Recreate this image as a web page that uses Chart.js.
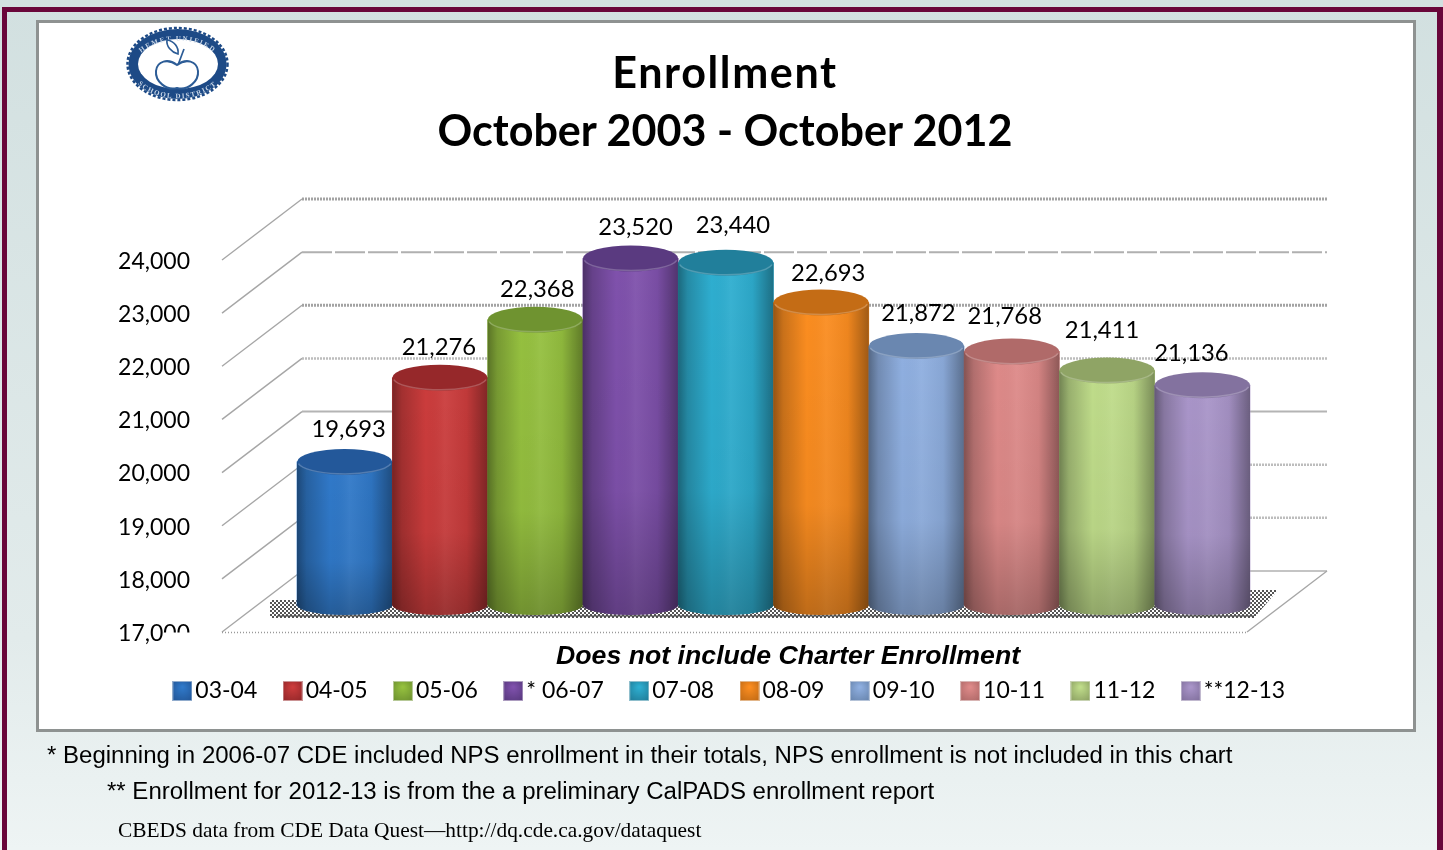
<!DOCTYPE html>
<html lang="en">
<head>
    <meta charset="utf-8">
    <title>Enrollment</title>
    <script src="https://cdn.jsdelivr.net/npm/chart.js"></script>
    <style>
        html, body { margin: 0; padding: 0; }
        body {
            width: 1443px; height: 850px; position: relative; overflow: hidden;
            background: linear-gradient(180deg, #d2e0e0 0%, #e2ebeb 75%, #eef4f4 100%);
        }
        #frame {
            position: absolute; left: 2px; top: 7px; width: 1441px; height: 860px;
            box-sizing: border-box; border: 5px solid #69063a; border-right-width: 6px;
        }
        #panel {
            position: absolute; left: 36px; top: 20px; width: 1380px; height: 712px;
            box-sizing: border-box; background: #fff; border: 3.5px solid #8e9291;
        }
        canvas { position: absolute; left: 0; top: 0; }
        #logo { position: absolute; left: 124px; top: 25px; filter: blur(0.6px); }
        .title {
            position: absolute; left: 35px; width: 1380px; text-align: center;
            font: bold 43.1px Lato, sans-serif; color: #000; line-height: 58px; top: 42px;
        }
        .title span { letter-spacing: 1.6px; }
        .caption {
            position: absolute; left: 556px; top: 640px; white-space: nowrap;
            font: italic bold 26.7px "Liberation Sans", Arial, sans-serif; color: #000;
        }
        .note { position: absolute; white-space: nowrap; color: #000; }
        .sans { font: 24.03px "Liberation Sans", Arial, sans-serif; }
        .serif { font: 21.4px "Liberation Serif", "Times New Roman", serif; }
    </style>
</head>
<body>
    <div id="frame"></div>
    <div id="panel"></div>
    <canvas id="enrollChart" width="1443" height="850"></canvas>

    <svg id="logo" width="108" height="78" viewBox="0 0 108 78">
        <defs>
            <path id="arcTop" d="M9 41 A45 30 0 0 1 98 41"/>
            <path id="arcBottom" d="M6 45 A48 33 0 0 0 101 45"/>
        </defs>
        <ellipse cx="53.5" cy="39" rx="49" ry="35" fill="#1d4a86"/>
        <ellipse cx="53.5" cy="39" rx="50" ry="36" fill="none" stroke="#1d4a86" stroke-width="2.5" stroke-dasharray="3 2"/>
        <ellipse cx="54" cy="39" rx="40" ry="25" fill="#fff"/>
        <text font-family="Liberation Serif" font-size="7" font-weight="bold" fill="#c9d7e8" letter-spacing="1.6">
            <textPath href="#arcTop" startOffset="50%" text-anchor="middle">HEMET UNIFIED</textPath>
        </text>
        <text font-family="Liberation Serif" font-size="7" font-weight="bold" fill="#c9d7e8" letter-spacing="1.4">
            <textPath href="#arcBottom" startOffset="50%" text-anchor="middle">SCHOOL DISTRICT</textPath>
        </text>
        <path d="M53 40 C44 33 33 36 32 46 C31 56 42 66 53 63 C64 66 75 56 74 46 C73 36 62 33 53 40 Z" fill="none" stroke="#2c5c96" stroke-width="2"/>
        <path d="M54 40 L60 24 M54 29 C47 27 42 21 43 15 C50 16 55 22 54 29 Z" fill="none" stroke="#2c5c96" stroke-width="1.7"/>
    </svg>

    <div class="title"><span>Enrollment</span><br>October 2003 - October 2012</div>
    <div class="caption">Does not include Charter Enrollment</div>
    <div class="note sans" style="left:47px; top:741px">* Beginning in 2006-07 CDE included NPS enrollment in their totals, NPS enrollment is not included in this chart</div>
    <div class="note sans" style="left:107px; top:777px">** Enrollment for 2012-13 is from the a preliminary CalPADS enrollment report</div>
    <div class="note serif" style="left:118px; top:818px">CBEDS data from CDE Data Quest—http://dq.cde.ca.gov/dataquest</div>

<script>
    const seasons = ['03-04', '04-05', '05-06', '* 06-07', '07-08', '08-09', '09-10', '10-11', '11-12', '**12-13'];
    const enrollment = [19693, 21276, 22368, 23520, 23440, 22693, 21872, 21768, 21411, 21136];
    const yMin = 17000;
    const yMax = 24000;
    const yStep = 1000;

    const bodyColors = ['#3079c9', '#cb3c3c', '#95c03f', '#7f51ac', '#2eaed0', '#fb8d20', '#8fafe0', '#de8a89', '#bfdc8a', '#a995c9'];
    const capColors = ['#23589a', '#96282a', '#6f9330', '#5a3a80', '#217f9b', '#c46c15', '#6a87b0', '#b06a69', '#8fa465', '#83729f'];

    // the value labels do not sit evenly above the bars
    const labelNudgeX = [4, -1, 2, 5, 7, 7, 2, -7, -5, -11];
    const labelNudgeY = [-33, -30, -30, -31, -37, -29, -33, -35, -40, -32];

    // back wall sits this far up and right of the front edge
    const wallDx = 80;
    const wallDy = -61;
    // the floor sticks out past the first and last bar
    const floorInset = 36;
    // bars stand part way into the floor
    const barDx = 39;
    const barDy = -27;
    const capRy = 13;
    const footRy = 10;

    // 24000 down to 17000
    const gridStyles = [
        { color: '#a3a3a3', width: 3, dash: [2, 1] },
        { color: '#b0b0b0', width: 2, dash: [30, 3] },
        { color: '#a3a3a3', width: 3, dash: [2, 1] },
        { color: '#bdbdbd', width: 2.5, dash: [2, 1] },
        { color: '#b4b4b4', width: 2, dash: [] },
        { color: '#bdbdbd', width: 2.5, dash: [2, 1] },
        { color: '#bdbdbd', width: 2.5, dash: [2, 1] },
        { color: '#b0b0b0', width: 1.5, dash: [] }
    ];

    function makeSwatch(body, cap) {
        const c = document.createElement('canvas');
        c.width = 20;
        c.height = 20;
        const g = c.getContext('2d');
        const grad = g.createRadialGradient(10, 6, 1, 10, 9, 13);
        grad.addColorStop(0, body);
        grad.addColorStop(1, cap);
        g.fillStyle = grad;
        g.fillRect(1, 1, 18, 18);
        // dotted rim
        g.strokeStyle = cap;
        g.setLineDash([1, 1]);
        g.strokeRect(0.5, 0.5, 19, 19);
        return c;
    }
    const swatches = bodyColors.map((col, i) => makeSwatch(col, capColors[i]));

    const floorPattern = (() => {
        const c = document.createElement('canvas');
        c.width = 4;
        c.height = 4;
        const g = c.getContext('2d');
        g.fillStyle = '#555';
        g.fillRect(0, 0, 2, 2);
        g.fillRect(2, 2, 2, 2);
        return document.createElement('canvas').getContext('2d').createPattern(c, 'repeat');
    })();

    const wallPlugin = {
        id: 'wall',
        beforeDatasetsDraw(chart) {
            const ctx = chart.ctx;
            const area = chart.chartArea;
            const y = chart.scales.y;
            const left = area.left - floorInset;
            const right = area.right + floorInset;
            ctx.save();
            y.ticks.forEach((tick, i) => {
                const st = gridStyles[y.ticks.length - 1 - i];
                const py = y.getPixelForValue(tick.value);
                ctx.strokeStyle = '#a6a6a6';
                ctx.lineWidth = 1.4;
                ctx.setLineDash([]);
                ctx.beginPath();
                ctx.moveTo(left, py);
                ctx.lineTo(left + wallDx, py + wallDy);
                ctx.stroke();
                ctx.strokeStyle = st.color;
                ctx.lineWidth = st.width;
                ctx.setLineDash(st.dash);
                ctx.beginPath();
                ctx.moveTo(left + wallDx, py + wallDy);
                ctx.lineTo(right + wallDx, py + wallDy);
                ctx.stroke();
            });
            // floor edges
            ctx.setLineDash([]);
            ctx.strokeStyle = '#a6a6a6';
            ctx.lineWidth = 1.4;
            ctx.beginPath();
            ctx.moveTo(right, area.bottom);
            ctx.lineTo(right + wallDx, area.bottom + wallDy);
            ctx.stroke();
            ctx.setLineDash([1, 2]);
            ctx.strokeStyle = '#999';
            ctx.beginPath();
            ctx.moveTo(left, area.bottom + 0.5);
            ctx.lineTo(right, area.bottom + 0.5);
            ctx.stroke();

            // dithered shadow along the foot of the bars
            const bars = chart.getDatasetMeta(0).data;
            const first = bars[0];
            const last = bars[bars.length - 1];
            const baseY = first.base + barDy;
            const x0 = first.x - first.width / 2 + barDx;
            const x1 = last.x + last.width / 2 + barDx;
            ctx.fillStyle = floorPattern;
            ctx.beginPath();
            ctx.moveTo(x0 - 27, baseY + capRy);
            ctx.lineTo(x1 + 4, baseY + capRy);
            ctx.lineTo(x1 + 28, baseY - 15);
            ctx.lineTo(x1, baseY - 15);
            ctx.lineTo(x0, baseY - 5);
            ctx.lineTo(x0 - 27, baseY - 5);
            ctx.closePath();
            ctx.fill();
            // heavier row of dots at the very front
            ctx.fillStyle = 'rgba(70,70,70,0.55)';
            ctx.fillRect(x0 - 20, baseY + capRy - 3, x1 - x0 + 24, 2);
            ctx.restore();
        }
    };

    // the library fills the bar bodies; this moves them onto the floor and rounds them off
    const cylinderPlugin = {
        id: 'cylinder',
        beforeDatasetDraw(chart) {
            chart.ctx.save();
            chart.ctx.translate(barDx, barDy);
        },
        afterDatasetDraw(chart, args) {
            const ctx = chart.ctx;
            args.meta.data.forEach((bar, i) => {
                const rx = bar.width / 2;
                const left = bar.x - rx;

                // bottom of the cylinder
                ctx.fillStyle = bodyColors[i];
                ctx.beginPath();
                ctx.ellipse(bar.x, bar.base, rx, footRy, 0, 0, Math.PI);
                ctx.fill();

                const shape = () => {
                    ctx.beginPath();
                    ctx.moveTo(left, bar.y);
                    ctx.lineTo(left, bar.base);
                    ctx.ellipse(bar.x, bar.base, rx, footRy, 0, Math.PI, 0, true);
                    ctx.lineTo(left + bar.width, bar.y);
                    ctx.closePath();
                };

                const side = ctx.createLinearGradient(left, 0, left + bar.width, 0);
                side.addColorStop(0, 'rgba(0,0,0,0.40)');
                side.addColorStop(0.1, 'rgba(0,0,0,0.2)');
                side.addColorStop(0.35, 'rgba(0,0,0,0)');
                side.addColorStop(0.55, 'rgba(255,255,255,0.05)');
                side.addColorStop(0.78, 'rgba(0,0,0,0.05)');
                side.addColorStop(1, 'rgba(0,0,0,0.36)');
                shape();
                ctx.fillStyle = side;
                ctx.fill();

                const fall = ctx.createLinearGradient(0, bar.y, 0, bar.base + footRy);
                fall.addColorStop(0, 'rgba(0,0,0,0)');
                fall.addColorStop(0.65, 'rgba(0,0,0,0.04)');
                fall.addColorStop(1, 'rgba(0,0,0,0.24)');
                shape();
                ctx.fillStyle = fall;
                ctx.fill();

                // top of the cylinder
                ctx.fillStyle = capColors[i];
                ctx.beginPath();
                ctx.ellipse(bar.x, bar.y, rx, capRy, 0, 0, Math.PI * 2);
                ctx.fill();
                ctx.strokeStyle = 'rgba(255,255,255,0.22)';
                ctx.lineWidth = 1.5;
                ctx.beginPath();
                ctx.ellipse(bar.x, bar.y, rx - 1, capRy - 1, 0, 0.15, Math.PI - 0.15);
                ctx.stroke();
            });
            ctx.restore();
        }
    };

    const valueLabelPlugin = {
        id: 'valueLabel',
        afterDraw(chart) {
            const ctx = chart.ctx;
            ctx.save();
            // the lowest tick label is cut short by the floor
            const y = chart.scales.y;
            ctx.fillStyle = '#fff';
            ctx.fillRect(164, y.getPixelForValue(yMin) + 0.5, 32, 14);

            ctx.fillStyle = '#000';
            ctx.font = '23.8px Lato, sans-serif';
            ctx.textAlign = 'center';
            ctx.textBaseline = 'middle';
            chart.getDatasetMeta(0).data.forEach((bar, i) => {
                const text = enrollment[i].toLocaleString('en-US');
                ctx.fillText(text, bar.x + barDx + labelNudgeX[i], bar.y + barDy + labelNudgeY[i]);
            });
            ctx.restore();
        }
    };

    new Chart(document.getElementById('enrollChart'), {
        type: 'bar',
        data: {
            labels: seasons,
            datasets: [{
                label: 'Enrollment',
                data: enrollment,
                base: yMin,
                backgroundColor: bodyColors,
                borderWidth: 0,
                barPercentage: 1,
                categoryPercentage: 1,
                clip: false
            }]
        },
        options: {
            responsive: false,
            animation: false,
            layout: { padding: { top: 260, left: 23, right: 0, bottom: 137.5 } },
            scales: {
                x: {
                    grid: { display: false },
                    border: { display: false },
                    ticks: { display: false },
                    afterFit(scale) { scale.height = 13.6; }
                },
                y: {
                    min: yMin,
                    max: yMax,
                    grid: { display: false },
                    border: { display: false },
                    ticks: {
                        stepSize: yStep,
                        padding: 60,
                        labelOffset: 1.5,
                        color: '#000',
                        font: { family: 'Lato', size: 23 },
                        callback: v => v.toLocaleString('en-US')
                    },
                    afterFit(scale) { scale.width = 235; }
                },
                // empty axis, keeps the plot clear of the right edge while the legend stays wide
                gutter: {
                    position: 'right',
                    grid: { display: false },
                    border: { display: false },
                    ticks: { display: false },
                    afterFit(scale) { scale.width = 232; }
                }
            },
            plugins: {
                tooltip: { enabled: false },
                legend: {
                    position: 'bottom',
                    labels: {
                        usePointStyle: true,
                        boxWidth: 3,
                        padding: 33.9,
                        color: '#000',
                        font: { family: 'Lato', size: 23 },
                        generateLabels() {
                            return seasons.map((name, i) => ({
                                text: name,
                                fillStyle: bodyColors[i],
                                strokeStyle: bodyColors[i],
                                lineWidth: 0,
                                pointStyle: swatches[i],
                                index: i
                            }));
                        }
                    }
                }
            }
        },
        plugins: [wallPlugin, cylinderPlugin, valueLabelPlugin]
    });
</script>
</body>
</html>
